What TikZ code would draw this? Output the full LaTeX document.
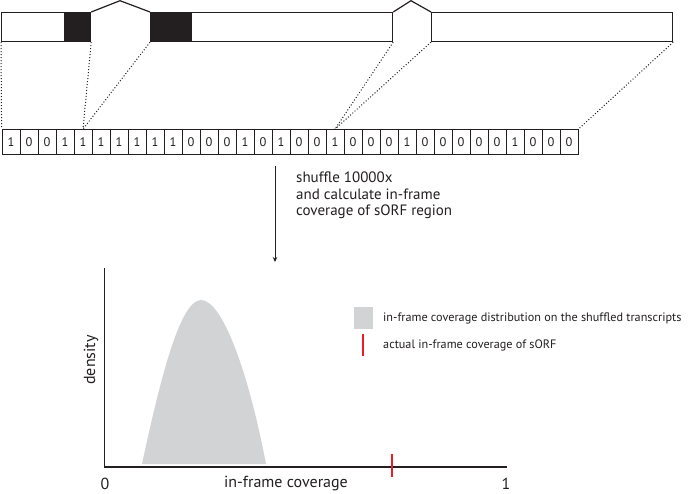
\documentclass[tikz,border=0pt]{standalone}
\usepackage{fontspec}
\setmainfont{PT Sans}
\usetikzlibrary{arrows.meta,positioning}

\begin{document}
\begin{tikzpicture}[x=1pt, y=-1pt, >=Stealth]
  \definecolor{ink}{RGB}{35,31,32}
  \definecolor{distgray}{RGB}{209,211,212}
  \definecolor{sorfred}{RGB}{237,28,36}
  \tikzset{
    exon/.style={draw=ink, line width=1.2pt, fill=white, minimum height=29pt, inner sep=0pt, anchor=north west},
    bit/.style={draw=ink, line width=0.8pt, minimum width=18pt, minimum height=25pt, inner sep=0pt, text=ink, font=\fontsize{12.5}{14}\selectfont},
    map/.style={ink, dotted, line width=1pt},
    axis/.style={ink, line width=1.4pt},
    tick/.style={draw=sorfred, line width=1.6pt},
    lbl/.style={ink, inner sep=0pt, font=\fontsize{16}{19}\selectfont},
    key/.style={ink, inner sep=0pt, anchor=west, font=\fontsize{12.2}{14}\selectfont}
  }
  \useasboundingbox (0,0) rectangle (690,493);

  % transcript: three exons, coding part in black
  \node[exon, minimum width=89pt] (ex1) at (1,12) {};
  \node[exon, minimum width=242pt] (ex2) at (150,12) {};
  \node[exon, minimum width=241pt] (ex3) at (431,12) {};
  \fill[ink] (64,12) rectangle (90,41);
  \fill[ink] (150,12) rectangle (192,41);
  \draw[ink, line width=1.2pt] (ex1.north east) -- (120,0.7) -- (ex2.north west);
  \draw[ink, line width=1.2pt] (ex2.north east) -- (411,0.7) -- (ex3.north west);

  % in-frame reads per position
  \foreach \b [count=\i from 0] in {1,0,0,1,1,1,1,1,1,1,0,0,0,1,0,1,0,0,1,0,0,0,1,0,0,0,0,0,1,0,0,0}
    \node[bit] (b\i) at (11+18*\i,142) {\b};

  \draw[map] (ex1.south west) -- (b0.north west);
  \draw[map] (ex1.south east) -- (b4.north);
  \draw[map] (ex2.south west) -- (b4.north);
  \draw[map] (ex2.south east) -- (b18.north);
  \draw[map] (ex3.south west) -- (b18.north);
  \draw[map] (ex3.south east) -- (b31.north east);

  \coordinate (shuf) at (275,166);
  \coordinate (plot) at (275,262);
  \draw[ink, line width=0.9pt, -{Stealth[length=5pt,width=4.5pt]}] (shuf) -- (plot);
  \node[ink, anchor=north west, align=left, inner sep=0pt, font=\fontsize{15}{16.5}\selectfont] (how) at (296,172)
    {shuffle 10000x\\and calculate in-frame\\coverage of sORF region};

  % density plot
  \coordinate (origin) at (104.5,467);
  \coordinate (ytop) at (104.5,268);
  \coordinate (xend) at (507,467);
  \fill[distgray] (142,464) .. controls (160,380) and (180,300) .. (201,300)
    .. controls (222,300) and (248,370) .. (266,464) -- cycle;
  \draw[axis] (ytop) -- (origin) -- (xend);
  \path[tick] (392,454) -- (392,477);

  \node[lbl] (zero) at (105,484) {0};
  \node[lbl] (one) at (506,484) {1};
  \node[lbl] (xlab) at (286,484) {in-frame coverage};
  \node[lbl, rotate=90] (ylab) at (91,360) {density};

  % legend
  \node[fill=distgray, minimum width=19pt, minimum height=22pt, inner sep=0pt] (keydist) at (363.5,318) {};
  \path[tick] (363,334) -- (363,356);
  \node[key] (txtdist) at (383,318) {in-frame coverage distribution on the shuffled transcripts};
  \node[key] (txtobs) at (383,345) {actual in-frame coverage of sORF};
\end{tikzpicture}
\end{document}
